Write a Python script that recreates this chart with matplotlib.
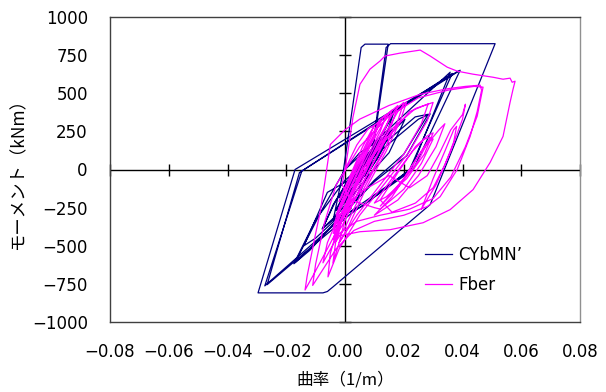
import matplotlib.pyplot as plt

plt.rcParams['font.family'] = ['DejaVu Sans']
jp_font = ['Noto Sans CJK JP', 'DejaVu Sans']

# CYbMN' model (navy): curvature [1/m] and moment [kNm] at loop vertices
cyb_curv = [
    0.000, 0.005, 0.010, 0.012, 0.007, 0.002, -0.001, -0.002, 0.001, 0.006,
    0.011, 0.013, 0.008, 0.003, 0.000, -0.002, 0.002, 0.008, 0.014, 0.015,
    0.010, 0.004, -0.001, -0.003, 0.001, 0.007, 0.015, 0.016, 0.011, 0.005,
    -0.001, -0.003, 0.001,
    0.004, 0.010, 0.012, 0.008, 0.003, 0.000, -0.001, 0.002, 0.007, 0.011,
    0.013, 0.009, 0.004, 0.001, 0.000, 0.005, 0.010, 0.012, 0.008, 0.002, 0.000,
    0.008, 0.0164, 0.0120, 0.0060, -0.0040, -0.0075, -0.0040,
    0.0040, 0.0204, 0.0150, 0.0080, -0.0040, -0.0078, -0.0030, 0.0060, 0.0239, 0.0283,
    0.0200, 0.0100, -0.0120, -0.0174, -0.0100, 0.0000, 0.0250, 0.0290, 0.0210, 0.0100,
    -0.0120, -0.0170, -0.0080, 0.0000, 0.0358, 0.0225, 0.0000, -0.0273, -0.0147, 0.0392,
    0.0232, 0.0020, -0.0265, -0.0155, 0.0365, 0.0220, 0.0060, -0.0040, -0.0005, 0.0055,
    0.0068, 0.0147, 0.0085, 0.0040, -0.0100, -0.0140, -0.0060, 0.0085, 0.0140, 0.0155,
    0.0511, 0.0290, -0.0041, -0.0060, -0.0075, -0.0296, -0.0170, 0.0385]
cyb_mom = [
    0, 110, 170, 190, 40, -70, -150, -175, -70, 60,
    180, 205, 50, -60, -150, -185, -50, 90, 230, 250,
    60, -90, -220, -260, -120, 40, 240, 265, 70, -80,
    -230, -270, -130,
    20, 120, 150, 20, -90, -150, -170, -80, 50, 110,
    140, 10, -100, -160, -140, -20, 90, 120, 0, -130, -155,
    60, 362, 110, -50, -320, -385, -230,
    20, 329, 110, -40, -330, -390, -200, 50, 345, 362,
    100, -70, -530, -618, -330, -70, 330, 365, 90, -80,
    -520, -610, -270, 0, 638, 0, -300, -763, -10, 651,
    0, -290, -755, -20, 630, 0, -240, -330, 0, 800,
    822, 822, 0, -200, -450, -500, -150, 10, 800, 825,
    825, -230, -770, -800, -809, -809, 0, 645]

# Fiber model (magenta)
fib_curv = [
    0.000,
    0.004, 0.008, 0.010, 0.008, 0.004, 0.000, -0.002, -0.001, 0.002,
    0.006, 0.010, 0.012, 0.010, 0.006, 0.001, -0.002, -0.003, -0.001, 0.003,
    0.008, 0.012, 0.014, 0.012, 0.007, 0.002, -0.002, -0.004, -0.002, 0.002,
    0.008, 0.013, 0.016, 0.014, 0.009, 0.003, -0.002, -0.004, -0.002, 0.003,
    0.009, 0.015, 0.018, 0.016, 0.011, 0.005, -0.001, -0.004, -0.002, 0.004,
    0.011, 0.017, 0.020, 0.018, 0.013, 0.006, 0.000, -0.003, -0.001, 0.005,
    0.012, 0.018, 0.021, 0.019, 0.014, 0.007, 0.001, -0.002, 0.000, 0.006,
    0.014, 0.022, 0.0283, 0.026, 0.020, 0.012, 0.004, -0.002, -0.0041, -0.003, 0.000, 0.006,
    0.015, 0.024, 0.030, 0.028, 0.022, 0.014, 0.005, -0.002, -0.0058, -0.005,
    -0.002, 0.004, 0.010, 0.016, 0.014, 0.008, 0.000, -0.006, -0.011, -0.0136,
    -0.0129, -0.0100, -0.0085, -0.0070, -0.0050, 0.000, 0.005, 0.015, 0.0256, 0.035,
    0.041, 0.046, 0.0465, 0.0450, 0.0426, 0.0382, 0.0324, 0.0280, 0.020, 0.010,
    0.003, -0.003, -0.0110, -0.0100, -0.0070, -0.0030, 0.005, 0.015, 0.025, 0.035,
    0.044, 0.0470, 0.045, 0.041, 0.036, 0.030, 0.022, 0.012, 0.004, -0.002,
    -0.006, -0.0075, -0.006, -0.002, 0.005, 0.015, 0.022, 0.028, 0.032, 0.036,
    0.040, 0.041, 0.040, 0.036, 0.031, 0.026, 0.030, 0.034, 0.037, 0.038,
    0.037, 0.034, 0.030, 0.024, 0.016, 0.012, 0.018, 0.024, 0.028, 0.030,
    0.027, 0.021, 0.014, 0.010, 0.016, 0.023, 0.027, 0.029, 0.025, 0.018,
    0.012, 0.020, 0.026, 0.032, 0.034, 0.031, 0.025, 0.018, 0.010, 0.016,
    0.022, 0.028, 0.030, 0.026, 0.020, 0.012,
    0.010, 0.002, -0.001, 0.000, 0.0010, 0.0027, 0.0051, 0.0085, 0.0119, 0.0136,
    0.0187, 0.0256, 0.0290, 0.0348, 0.0382, 0.0436, 0.0504, 0.0538, 0.0562, 0.0569,
    0.0579, 0.0572, 0.0562, 0.0538, 0.0494, 0.0436, 0.0358, 0.0266, 0.0153, 0.0051,
    -0.0017]
fib_mom = [
    0,
    160, 270, 290, 200, 40, -130, -210, -160, -30,
    150, 290, 320, 220, 60, -150, -260, -300, -200, -20,
    180, 330, 360, 250, 60, -150, -320, -380, -250, -80,
    160, 340, 390, 280, 80, -150, -360, -420, -280, -80,
    170, 370, 420, 300, 100, -130, -370, -460, -320, -90,
    190, 390, 440, 320, 110, -140, -380, -470, -330, -100,
    180, 380, 445, 330, 120, -130, -380, -480, -330, -90,
    200, 380, 430, 300, 100, -100, -300, -480, -612, -450, -250, 0,
    250, 400, 440, 320, 120, -80, -300, -520, -704, -550,
    -350, -100, 100, 250, 150, -50, -300, -520, -700, -790,
    -700, -420, -283, -100, 164, 260, 330, 420, 493, 530,
    545, 553, 520, 380, 217, 0, -178, -243, -300, -340,
    -400, -520, -760, -620, -350, -100, 150, 350, 470, 520,
    545, 540, 350, 150, -50, -190, -260, -300, -340, -420,
    -560, -612, -480, -300, -150, -40, -120, -40, 100, 260,
    360, 428, 330, 120, -100, -260, -60, 120, 260, 283,
    180, 30, -120, -220, -280, -200, -20, 150, 220, 240,
    100, -60, -180, -220, -60, 120, 200, 210, 60, -120,
    -240, -60, 120, 260, 300, 150, -40, -200, -300, -180,
    0, 180, 200, 40, -130, -260,
    -250, -200, -100, 0, 118, 342, 559, 658, 711, 744,
    763, 783, 744, 671, 645, 625, 605, 592, 599, 572,
    579, 526, 441, 217, 46, -132, -263, -349, -395, -408,
    -434]

x_ticks = [-0.08, -0.06, -0.04, -0.02, 0.00, 0.02, 0.04, 0.06, 0.08]
x_labels = ['\u22120.08', '\u22120.06', '\u22120.04', '\u22120.02', '0.00',
            '0.02', '0.04', '0.06', '0.08']
y_ticks = [1000, 750, 500, 250, 0, -250, -500, -750, -1000]
y_labels = ['1000', '750', '500', '250', '0', '\u2212250', '\u2212500',
            '\u2212750', '\u22121000']

fig = plt.figure(figsize=(6.06, 3.92), dpi=100)
ax = fig.add_axes([110 / 606, 1 - 322 / 392, 470 / 606, 305 / 392])

ax.plot(cyb_curv, cyb_mom, color='#000080', lw=0.9, label='CYbMN\u2019', zorder=3)
ax.plot(fib_curv, fib_mom, color='#FF00FF', lw=0.9, label='Fber', zorder=3)

# axes crossing at zero, with crossing tick marks
ax.axhline(0, color='black', lw=1.0, zorder=2)
ax.axvline(0, color='black', lw=1.0, zorder=2)
ax.plot([t for t in x_ticks if t != 0], [0] * 8, ls='none', marker='|',
        ms=9, mew=1.0, color='black', zorder=2, clip_on=False)
ax.plot([0] * 8, [t for t in y_ticks if t != 0], ls='none', marker='_',
        ms=9, mew=1.0, color='black', zorder=2, clip_on=False)

ax.set_xlim(-0.08, 0.08)
ax.set_ylim(-1000, 1000)
ax.set_xticks(x_ticks)
ax.set_xticklabels(x_labels)
ax.set_yticks(y_ticks)
ax.set_yticklabels(y_labels)
ax.tick_params(length=0, labelsize=12, colors='black')
ax.tick_params(axis='x', pad=15)
ax.tick_params(axis='y', pad=16)

for s in ['left', 'bottom', 'top']:
    ax.spines[s].set_color('#404040')
ax.spines['right'].set_color('#909090')
for s in ax.spines.values():
    s.set_linewidth(1.0)

ax.set_xlabel('曲率（1/m）', fontsize=12, labelpad=8, family=jp_font)
ax.set_ylabel('モーメント（kNm）', fontsize=12.5, labelpad=3, family=jp_font)

ax.legend(loc='upper left', bbox_to_anchor=(0.67, 0.25), frameon=False,
          fontsize=12, handlelength=1.6, handletextpad=0.4, labelspacing=0.75,
          borderaxespad=0, borderpad=0)

fig.savefig('out.png', dpi=100)
